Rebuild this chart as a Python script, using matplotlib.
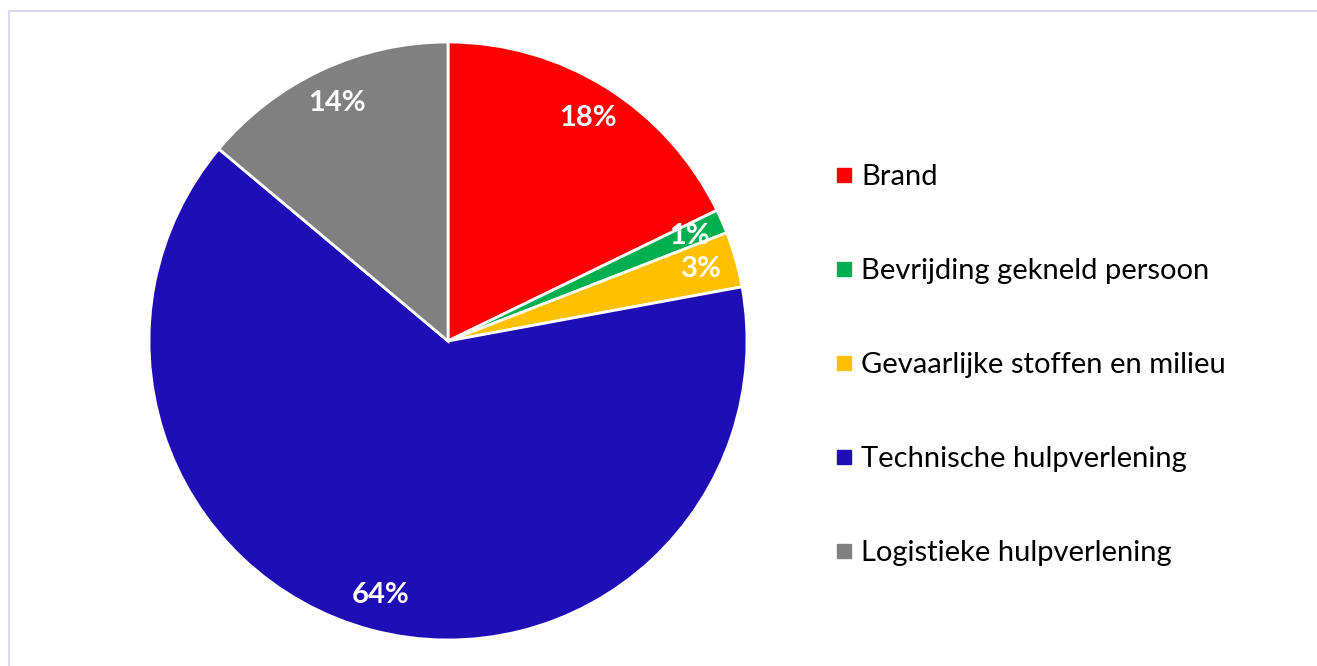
import matplotlib.pyplot as plt
from matplotlib.lines import Line2D

# Aandeel per type incident (percentages)
categories = ["Brand", "Bevrijding gekneld persoon", "Gevaarlijke stoffen en milieu",
              "Technische hulpverlening", "Logistieke hulpverlening"]
values = [17.8, 1.3, 3.0, 64.0, 13.9]
colors = ["#FF0000", "#00B050", "#FFC000", "#1F0DB6", "#808080"]

W, H = 1317, 666
fig = plt.figure(figsize=(W / 100, H / 100), dpi=100)

# pie centre (448, 341) px, radius 299 px
cx, cy, r = 448, 341, 299
ax = fig.add_axes([(cx - r) / W, (H - cy - r) / H, 2 * r / W, 2 * r / H])

wedges, texts, autotexts = ax.pie(
    values, colors=colors, startangle=90, counterclock=False,
    autopct="%.0f%%", pctdistance=0.88,
    wedgeprops=dict(edgecolor="white", linewidth=2),
    textprops=dict(color="white", fontsize=21, fontweight="bold", family="Lato"))
ax.set_xlim(-1, 1)
ax.set_ylim(-1, 1)
ax.set_aspect("equal")
ax.axis("off")

# legend
handles = [Line2D([], [], marker="s", linestyle="none", markersize=9.5,
                  markerfacecolor=c, markeredgecolor=c) for c in colors]
fig.legend(handles, categories, loc="center left", bbox_to_anchor=(822 / W, 1 - 365 / H),
           frameon=False, prop=dict(family="Lato", size=21), labelspacing=2.33,
           handletextpad=0.25, handlelength=0.7, borderaxespad=0)

# thin border (top and left visible)
fig.add_artist(Line2D([8.5 / W, 8.5 / W], [0, 1 - 10.5 / H], color="#D9D9EE", linewidth=1.5))
fig.add_artist(Line2D([8.5 / W, 1], [1 - 10.5 / H, 1 - 10.5 / H], color="#D9D9EE", linewidth=1.5))

fig.savefig("out.png", dpi=100)
